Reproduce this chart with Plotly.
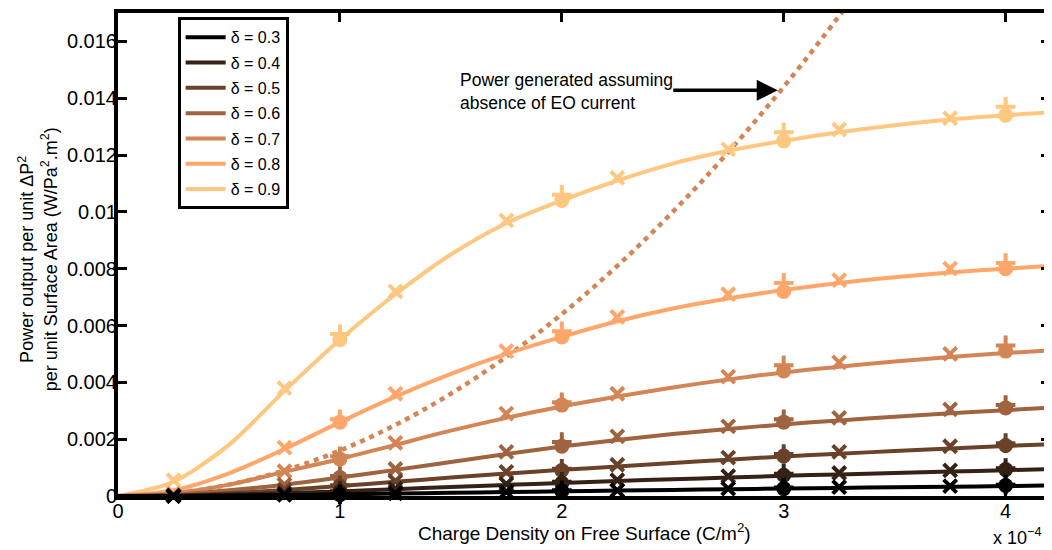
import plotly.graph_objects as go

# ---------------- data ----------------
deltas = ["0.3", "0.4", "0.5", "0.6", "0.7", "0.8", "0.9"]
colors = ["rgb(0,0,0)", "rgb(53,33,21)", "rgb(106,66,42)", "rgb(159,100,63)",
          "rgb(212,133,85)", "rgb(255,166,106)", "rgb(255,199,127)"]

# smooth model curves (x in C/m^2, y in W/Pa^2.m^2)
x_line = [0, 0.25e-4, 0.5e-4, 0.75e-4, 1e-4, 1.25e-4, 1.5e-4, 1.75e-4, 2e-4, 2.25e-4,
          2.5e-4, 2.75e-4, 3e-4, 3.25e-4, 3.5e-4, 3.75e-4, 4e-4, 4.2e-4]
y_d03 = [0, 0, 0.000015, 0.000035, 0.00006, 0.000085, 0.00011, 0.00014, 0.000165, 0.00019,
         0.000215, 0.00024, 0.00026, 0.000285, 0.000305, 0.000325, 0.00035, 0.00037]
y_d04 = [0, 0.00001, 0.00005, 0.0001, 0.00016, 0.00024, 0.00032, 0.00039, 0.00046, 0.00053,
         0.00059, 0.00065, 0.00071, 0.00076, 0.00081, 0.00086, 0.00091, 0.00095]
y_d05 = [0, 0.00002, 0.0001, 0.00021, 0.00035, 0.0005, 0.00065, 0.00079, 0.00092, 0.00104,
         0.00116, 0.00128, 0.00139, 0.00149, 0.00158, 0.00167, 0.00176, 0.00182]
y_d06 = [0, 0.00005, 0.0002, 0.0004, 0.00065, 0.00092, 0.0012, 0.00148, 0.00174, 0.00197,
         0.00218, 0.00236, 0.00252, 0.00266, 0.00279, 0.00291, 0.00302, 0.00311]
y_d07 = [0, 0.0001, 0.0004, 0.00085, 0.0013, 0.0018, 0.0023, 0.00275, 0.00315, 0.0035,
         0.00382, 0.0041, 0.00435, 0.00455, 0.00473, 0.00489, 0.00503, 0.00513]
y_d08 = [0, 0.0002, 0.0008, 0.00165, 0.0026, 0.0035, 0.0043, 0.005, 0.0056, 0.00615,
         0.0066, 0.00695, 0.00725, 0.0075, 0.0077, 0.00787, 0.008, 0.0081]
y_d09 = [0, 0.0005, 0.0018, 0.0037, 0.0055, 0.0071, 0.0085, 0.0096, 0.0104, 0.0111,
         0.0117, 0.01215, 0.0125, 0.0128, 0.01305, 0.01325, 0.0134, 0.0135]
lines = [y_d03, y_d04, y_d05, y_d06, y_d07, y_d08, y_d09]

# 'x' marker points
x_cross = [0.25e-4, 0.75e-4, 1.25e-4, 1.75e-4, 2.25e-4, 2.75e-4, 3.25e-4, 3.75e-4]
xm_d03 = [0, 0.00004, 0.00009, 0.00015, 0.0002, 0.00026, 0.00031, 0.00035]
xm_d04 = [0, 0.0001, 0.00026, 0.00042, 0.00056, 0.0007, 0.00081, 0.0009]
xm_d05 = [0.00001, 0.00022, 0.00052, 0.00085, 0.0011, 0.00135, 0.00155, 0.00175]
xm_d06 = [0.00002, 0.0004, 0.00095, 0.00155, 0.0021, 0.00245, 0.00275, 0.00305]
xm_d07 = [0.00005, 0.00087, 0.00187, 0.0029, 0.0036, 0.0042, 0.0047, 0.005]
xm_d08 = [0.0001, 0.0017, 0.0036, 0.0051, 0.0063, 0.0071, 0.0076, 0.008]
xm_d09 = [0.00056, 0.0038, 0.0072, 0.0097, 0.0112, 0.0122, 0.0129, 0.0133]
xmarks = [xm_d03, xm_d04, xm_d05, xm_d06, xm_d07, xm_d08, xm_d09]

# circle and plus marker points
x_int = [1e-4, 2e-4, 3e-4, 4e-4]
ci_d03 = [0.00005, 0.00017, 0.00026, 0.00037]
ci_d04 = [0.00015, 0.00046, 0.00073, 0.00093]
ci_d05 = [0.00035, 0.0009, 0.00141, 0.00178]
ci_d06 = [0.00065, 0.00175, 0.0026, 0.0031]
ci_d07 = [0.0013, 0.0032, 0.0044, 0.0051]
ci_d08 = [0.0026, 0.0056, 0.0072, 0.0080]
ci_d09 = [0.0055, 0.0104, 0.0125, 0.0134]
circles = [ci_d03, ci_d04, ci_d05, ci_d06, ci_d07, ci_d08, ci_d09]

pl_d03 = [0.00006, 0.0002, 0.0003, 0.0004]
pl_d04 = [0.00017, 0.0005, 0.00078, 0.00098]
pl_d05 = [0.00038, 0.00096, 0.00148, 0.00186]
pl_d06 = [0.0007, 0.0019, 0.0027, 0.0032]
pl_d07 = [0.0014, 0.0033, 0.0046, 0.0053]
pl_d08 = [0.0027, 0.0058, 0.0075, 0.0082]
pl_d09 = [0.0057, 0.0106, 0.0128, 0.0137]
pluses = [pl_d03, pl_d04, pl_d05, pl_d06, pl_d07, pl_d08, pl_d09]

# power assuming no EO current (dotted)
x_eo = [0, 0.25e-4, 0.5e-4, 0.75e-4, 1e-4, 1.25e-4, 1.5e-4, 1.75e-4, 2e-4, 2.25e-4,
        2.5e-4, 2.75e-4, 3e-4, 3.25e-4, 3.4e-4]
y_eo = [0, 0.0001, 0.0004, 0.0009, 0.0016, 0.0025, 0.0036, 0.0049, 0.0064, 0.0081,
        0.01, 0.0121, 0.0144, 0.0169, 0.0185]

x_tickvals = [0, 1e-4, 2e-4, 3e-4, 4e-4]
x_ticktext = ["0", "1", "2", "3", "4"]
y_tickvals = [0, 0.002, 0.004, 0.006, 0.008, 0.01, 0.012, 0.014, 0.016]
y_ticktext = ["0", "0.002", "0.004", "0.006", "0.008", "0.01", "0.012", "0.014", "0.016"]

FONT = "Liberation Sans, Arial, sans-serif"

fig = go.Figure()

# dotted EO-absent curve
fig.add_trace(go.Scatter(x=x_eo, y=y_eo, mode="lines", showlegend=False,
                         line=dict(color=colors[4], width=4.5, dash="5px,5px",
                                   shape="spline")))

# series drawn light first so dark ones lie on top
for i in reversed(range(len(deltas))):
    c = colors[i]
    grp = "d" + deltas[i]
    fig.add_trace(go.Scatter(x=x_line, y=lines[i], mode="lines", name="δ = " + deltas[i],
                             legendrank=i + 1, legendgroup=grp,
                             line=dict(color=c, width=4, shape="spline", smoothing=0.8)))
    fig.add_trace(go.Scatter(x=x_cross, y=xmarks[i], mode="markers", showlegend=False,
                             cliponaxis=False, legendgroup=grp,
                             marker=dict(symbol="x-thin", size=13, color=c,
                                         line=dict(color=c, width=4))))
    fig.add_trace(go.Scatter(x=x_int, y=circles[i], mode="markers", showlegend=False,
                             cliponaxis=False, legendgroup=grp,
                             marker=dict(symbol="circle", size=15, color=c,
                                         line=dict(width=0))))
    fig.add_trace(go.Scatter(x=x_int, y=pluses[i], mode="markers", showlegend=False,
                             cliponaxis=False, legendgroup=grp,
                             marker=dict(symbol="cross-thin", size=14, color=c,
                                         line=dict(color=c, width=4))))

fig.update_layout(
    width=1052, height=550,
    margin=dict(l=110, r=10, t=1, b=62),
    paper_bgcolor="white", plot_bgcolor="white",
    font=dict(family=FONT, size=17, color="black"),
    legend=dict(x=0.064, y=0.991, xanchor="left", yanchor="top",
                bordercolor="black", borderwidth=3, bgcolor="white",
                font=dict(size=16), tracegroupgap=1.5, itemwidth=40),
    xaxis=dict(range=[0, 4.2e-4], tickvals=x_tickvals, ticktext=x_ticktext,
               showgrid=False, zeroline=False, showline=True, linecolor="black",
               linewidth=4, mirror="allticks", ticks="inside", ticklen=9,
               tickwidth=3, tickcolor="black", tickfont=dict(size=20),
               ticklabelstandoff=-6),
    yaxis=dict(range=[0, 0.017], tickvals=y_tickvals, ticktext=y_ticktext,
               showgrid=False, zeroline=False, showline=True, linecolor="black",
               linewidth=4, mirror="allticks", ticks="inside", ticklen=9,
               tickwidth=3, tickcolor="black", tickfont=dict(size=20),
               ticklabelstandoff=-7),
    annotations=[
        dict(text="Charge Density on Free Surface (C/m<sup>2</sup>)", xref="paper", yref="paper",
             x=0.5, y=-0.074, xanchor="center", yanchor="middle", showarrow=False,
             font=dict(size=19)),
        dict(text="x 10<sup>−4</sup>", xref="paper", yref="paper", x=1.0, y=-0.084,
             xanchor="right", yanchor="middle", showarrow=False, font=dict(size=18),
             xshift=-7),
        dict(text="Power output per unit ΔP<sup>2</sup><br>per unit Surface Area (W/Pa<sup>2</sup>.m<sup>2</sup>)",
             xref="paper", yref="paper", x=-0.0858, y=0.49, xanchor="center",
             yanchor="middle", textangle=-90, showarrow=False, font=dict(size=18)),
        dict(text="Power generated assuming<br>absence of EO current", xref="paper",
             yref="paper", x=0.3648, y=0.8368, xanchor="left", yanchor="middle",
             align="left", showarrow=False, font=dict(size=17.5)),
        dict(text="", x=2.973e-4, y=0.01428, xref="x", yref="y", ax=-106, ay=0,
             showarrow=True, arrowhead=2, arrowsize=1.2, arrowwidth=3.5,
             arrowcolor="black"),
    ],
)

fig.write_html("out.html")
